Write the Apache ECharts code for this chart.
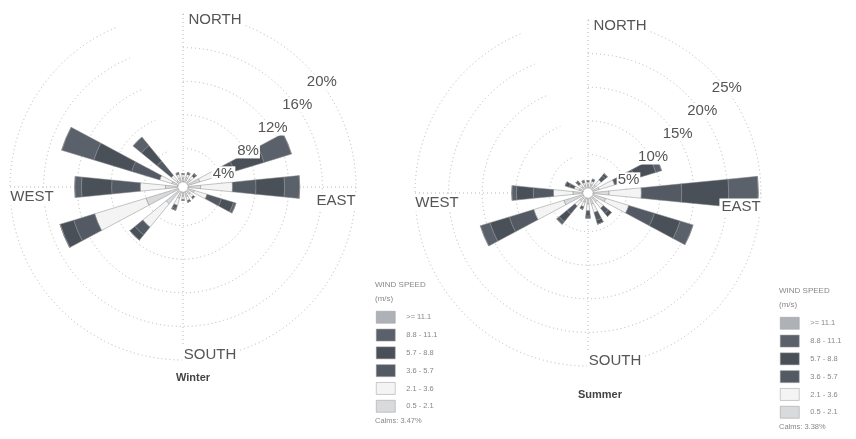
<!DOCTYPE html>
<html>
<head>
<meta charset="utf-8">
<script src="https://cdn.jsdelivr.net/npm/echarts@6/dist/echarts.min.js"></script>
<style>
  html, body { margin: 0; padding: 0; background: #fff; }
  #chart { width: 856px; height: 439px; }
</style>
</head>
<body>
<div id="chart"></div>
<script>
// compass directions, clockwise from north
const directions = ['N', 'NNE', 'NE', 'ENE', 'E', 'ESE', 'SE', 'SSE', 'S', 'SSW', 'SW', 'WSW', 'W', 'WNW', 'NW', 'NNW'];
const quarters = ['N', 'E', 'S', 'W'];
// wind speed classes (m/s), inner to outer
const speedClasses = ['0.5 - 2.1', '2.1 - 3.6', '3.6 - 5.7', '5.7 - 8.8', '8.8 - 11.1', '>= 11.1'];

// winter frequencies (%) per class, one value per direction
const winter05 = [0.5, 0.6, 0.6, 1.5, 1.5, 0.8, 0.5, 0.6, 0.5, 0.8, 2.0, 4.0, 1.5, 0.8, 0.4, 0.5];
const winter21 = [0.4, 0.4, 0.5, 2.8, 3.8, 1.6, 0.5, 0.5, 0.4, 0.9, 3.6, 6.4, 3.0, 1.5, 0.8, 0.5];
const winter36 = [0.1, 0.2, 0.3, 1.5, 2.8, 1.8, 0.2, 0.2, 0.1, 0.4, 1.2, 2.6, 3.4, 3.5, 2.2, 0.2];
const winter57 = [0.0, 0.0, 0.1, 3.7, 3.4, 1.5, 0.0, 0.0, 0.0, 0.2, 0.8, 1.7, 3.6, 4.7, 2.4, 0.0];
const winter88 = [0.0, 0.0, 0.0, 3.4, 1.8, 0.3, 0.0, 0.0, 0.0, 0.0, 0.0, 0.0, 0.8, 4.0, 1.3, 0.0];
const winter111 = [0.0, 0.0, 0.0, 0.0, 0.0, 0.0, 0.0, 0.0, 0.0, 0.0, 0.0, 0.0, 0.0, 0.0, 0.0, 0.0];

// summer frequencies (%)
const summer05 = [0.5, 0.6, 0.8, 1.0, 2.4, 2.0, 1.0, 1.0, 0.9, 0.7, 0.8, 3.0, 1.5, 0.6, 0.5, 0.5];
const summer21 = [0.4, 0.5, 1.0, 2.4, 4.8, 3.6, 1.2, 1.3, 1.0, 0.7, 1.0, 4.7, 2.9, 0.8, 0.5, 0.4];
const summer36 = [0.2, 0.3, 0.8, 3.2, 6.0, 4.0, 1.0, 1.2, 0.8, 0.4, 1.5, 3.8, 3.0, 0.8, 0.4, 0.3];
const summer57 = [0.0, 0.0, 0.4, 3.2, 7.0, 4.0, 0.6, 0.6, 0.3, 0.0, 1.5, 3.0, 2.5, 0.6, 0.2, 0.0];
const summer88 = [0.0, 0.0, 0.0, 0.9, 4.4, 2.0, 0.0, 0.0, 0.0, 0.0, 0.5, 1.5, 0.7, 0.0, 0.0, 0.0];
const summer111 = [0.0, 0.0, 0.0, 0.0, 0.0, 0.0, 0.0, 0.0, 0.0, 0.0, 0.0, 0.0, 0.0, 0.0, 0.0, 0.0];

// ring tick values (%)
const winterTicks = [4, 8, 12, 16, 20];
const summerTicks = [5, 10, 15, 20, 25];

const compassNames = ['NORTH', 'EAST', 'SOUTH', 'WEST'];
const seasonNames = ['Winter', 'Summer'];
const calms = ['Calms: 3.47%', 'Calms: 3.38%'];

const winterSeries = [winter05, winter21, winter36, winter57, winter88, winter111];
const summerSeries = [summer05, summer21, summer36, summer57, summer88, summer111];

const colors = ['#d9dadc', '#f4f4f4', '#535a64', '#4a5058', '#5a616b', '#aeb2b7'];
const font = '"Liberation Sans", Arial, sans-serif';
const gridColor = '#b5b5b5';
const dots = [1, 3];

const centers = [[183, 187], [588, 193]];
const R = [5, 173];
// compass label offsets from each rose centre: N, E, S, W
const compassOffsets = [[32, -167], [153, 14], [27, 168], [-151, 10]];

const chart = echarts.init(document.getElementById('chart'), null, { renderer: 'canvas' });

const polar = [];
const angleAxis = [];
const radiusAxis = [];
const series = [];
const graphic = [];
const hidden = { axisLine: { show: false }, axisTick: { show: false }, axisLabel: { show: false } };

[winterTicks, summerTicks].forEach((ticks, s) => {
  const step = ticks[0];
  const max = ticks[ticks.length - 1];
  const p = 3 * s;
  // rose with dotted rings
  polar.push({ center: centers[s], radius: R });
  angleAxis.push(Object.assign({
    polarIndex: p, type: 'category', data: directions, boundaryGap: false, startAngle: 90,
    splitLine: { show: false }
  }, hidden));
  radiusAxis.push(Object.assign({
    polarIndex: p, type: 'value', min: 0, max: max, interval: step,
    splitLine: { show: true, lineStyle: { color: gridColor, type: dots, width: 1 } }
  }, hidden));
  // dotted cross through the centre
  polar.push({ center: centers[s], radius: R });
  angleAxis.push(Object.assign({
    polarIndex: p + 1, type: 'category', data: quarters, boundaryGap: false, startAngle: 90,
    splitLine: { show: true, lineStyle: { color: gridColor, type: dots, width: 1 } }
  }, hidden));
  radiusAxis.push({ polarIndex: p + 1, type: 'value', min: 0, max: max, show: false });
  // percent labels along a diagonal
  polar.push({ center: centers[s], radius: R });
  angleAxis.push({ polarIndex: p + 2, type: 'value', min: 0, max: 360, startAngle: 43, show: false });
  radiusAxis.push({
    polarIndex: p + 2, type: 'value', min: 0, max: max, interval: step, z: 10,
    axisLine: { show: false }, axisTick: { show: false }, splitLine: { show: false },
    axisLabel: {
      formatter: v => (v ? v + '%' : ''),
      margin: -18,
      align: 'center',
      verticalAlign: 'middle',
      fontFamily: font,
      fontSize: 15,
      color: '#555',
      backgroundColor: '#fff',
      padding: [0, 1]
    }
  });

  const data = s === 0 ? winterSeries : summerSeries;
  data.forEach((vals, k) => {
    series.push({
      type: 'bar',
      coordinateSystem: 'polar',
      polarIndex: p,
      name: speedClasses[k],
      stack: seasonNames[s],
      barWidth: '50%',
      data: vals,
      itemStyle: { color: colors[k], borderColor: '#8a8a8a', borderWidth: 0.5 }
    });
  });

  const [cx, cy] = centers[s];
  compassNames.forEach((name, i) => {
    graphic.push({
      type: 'text', z: 100,
      x: cx + compassOffsets[i][0], y: cy + compassOffsets[i][1],
      style: { text: name, font: '15px ' + font, fill: '#555', align: 'center', verticalAlign: 'middle', backgroundColor: '#fff', padding: [1, 2] }
    });
  });
});

// season captions and legend headings
const captionPos = [[193, 378], [600, 395]];
const legendPos = [[376, 311], [780, 317]];
[0, 1].forEach(s => {
  graphic.push({
    type: 'text', x: captionPos[s][0], y: captionPos[s][1],
    style: { text: seasonNames[s], font: 'bold 11px ' + font, fill: '#444', align: 'center', verticalAlign: 'middle' }
  });
  graphic.push({
    type: 'text', x: legendPos[s][0] - 1, y: legendPos[s][1] - 33,
    style: { text: 'WIND SPEED\n(m/s)', font: '8px ' + font, fill: '#888', lineHeight: 14 }
  });
  graphic.push({
    type: 'text', x: legendPos[s][0] - 1, y: legendPos[s][1] + 106,
    style: { text: calms[s], font: '7.5px ' + font, fill: '#888' }
  });
});

const legendOrder = speedClasses.slice().reverse();
const legend = legendPos.map(p => ({
  left: p[0], top: p[1],
  padding: 0,
  orient: 'vertical',
  icon: 'rect',
  itemWidth: 19, itemHeight: 12, itemGap: 5.3,
  selectedMode: false,
  data: legendOrder,
  itemStyle: { borderWidth: 0.5, borderColor: '#999' },
  textStyle: { fontFamily: font, fontSize: 7.5, color: '#888', lineHeight: 10, padding: [0, 0, 0, 6] }
}));

chart.setOption({
  backgroundColor: '#fff',
  animation: false,
  polar, angleAxis, radiusAxis, series, legend, graphic
});
</script>
</body>
</html>
